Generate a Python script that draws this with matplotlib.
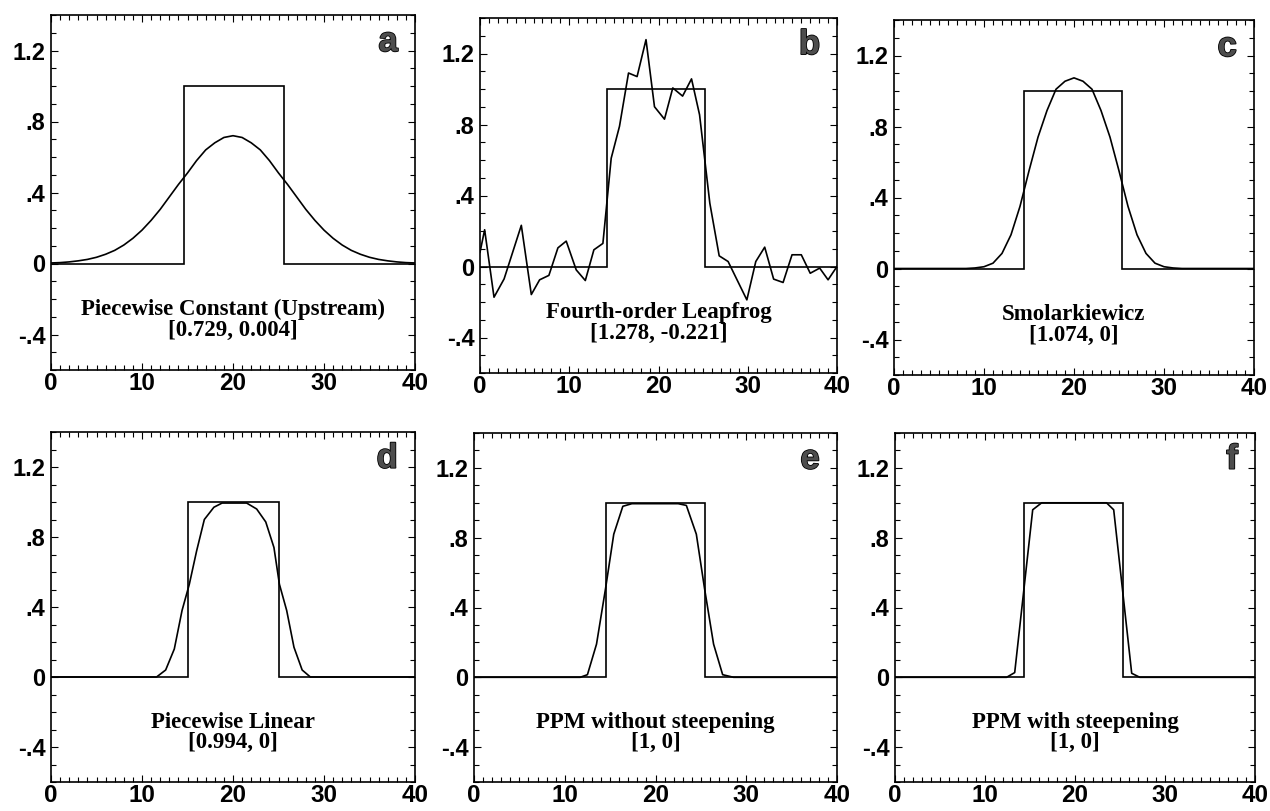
import matplotlib
matplotlib.use("Agg")
import matplotlib.pyplot as plt
from matplotlib.ticker import MultipleLocator
import matplotlib.patheffects as pe

# ---------------- data ----------------
x_grid = list(range(41))

# (a) Piecewise Constant (Upstream)
y_a = [0.003, 0.005, 0.009, 0.015, 0.023, 0.035, 0.052, 0.074, 0.104, 0.142,
       0.188, 0.243, 0.305, 0.375, 0.445, 0.51, 0.58, 0.64, 0.68, 0.71,
       0.72,
       0.71, 0.68, 0.64, 0.58, 0.51, 0.445, 0.375, 0.305, 0.243, 0.188,
       0.142, 0.104, 0.074, 0.052, 0.035, 0.023, 0.015, 0.009, 0.005, 0.003]

# (b) Fourth-order Leapfrog
x_b = [0.0, 0.52, 1.57, 2.7, 4.63, 5.75, 6.68, 7.72, 8.73, 9.66, 10.78, 11.8,
       12.76, 13.77, 14.7, 15.63, 16.64, 17.6, 18.6, 19.55, 20.67, 21.6, 22.7,
       23.7, 24.6, 25.75, 26.8, 27.8, 28.8, 29.9, 30.9, 31.9, 32.9, 33.96,
       34.96, 36.0, 37.0, 38.06, 39.0, 40.0]
y_b = [0.08, 0.207, -0.173, -0.07, 0.232, -0.158, -0.075, -0.05, 0.105, 0.143,
       -0.019, -0.079, 0.094, 0.13, 0.61, 0.79, 1.09, 1.07, 1.278, 0.90, 0.83,
       1.006, 0.96, 1.057, 0.855, 0.357, 0.06, 0.028, -0.075, -0.188, 0.028,
       0.109, -0.071, -0.09, 0.066, 0.066, -0.038, -0.009, -0.075, 0.0]

# (c) Smolarkiewicz
y_c = [0, 0, 0, 0, 0, 0, 0, 0, 0, 0.003,
       0.01, 0.03, 0.085, 0.19, 0.35, 0.55, 0.74, 0.89, 1.01, 1.055,
       1.074,
       1.055, 1.01, 0.89, 0.74, 0.55, 0.35, 0.19, 0.085, 0.03, 0.01,
       0.003, 0, 0, 0, 0, 0, 0, 0, 0, 0]

# (d) Piecewise Linear
x_d = [0, 11.6, 12.6, 13.55, 14.4, 15.2, 16.0, 16.85, 17.9, 18.8, 21.5, 22.6,
       23.6, 24.5, 25.1, 25.9, 26.7, 27.6, 28.5, 40]
y_d = [0, 0, 0.04, 0.16, 0.38, 0.53, 0.72, 0.90, 0.97, 0.994, 0.994, 0.96,
       0.886, 0.74, 0.53, 0.38, 0.17, 0.04, 0, 0]

# (e) PPM without steepening
x_e = [0, 11.7, 12.5, 13.5, 14.5, 15.4, 16.4, 17.4, 22.5, 23.4, 24.5, 25.4,
       26.4, 27.4, 28.6, 40]
y_e = [0, 0, 0.015, 0.19, 0.51, 0.82, 0.98, 0.995, 0.995, 0.985, 0.82, 0.51,
       0.19, 0.015, 0, 0]

# (f) PPM with steepening
x_f = [0, 12.4, 13.3, 15.3, 16.3, 23.5, 24.3, 26.3, 27.2, 40]
y_f = [0, 0, 0.027, 0.96, 1.0, 1.0, 0.96, 0.023, 0, 0]

# exact square pulse edges, per panel
box_left = [14.6, 14.2, 14.4, 15.1, 14.5, 14.3]
box_right = [25.6, 25.2, 25.3, 25.1, 25.4, 25.3]

titles = ["Piecewise Constant (Upstream)", "Fourth-order Leapfrog",
          "Smolarkiewicz", "Piecewise Linear", "PPM without steepening",
          "PPM with steepening"]
stats = ["[0.729, 0.004]", "[1.278, -0.221]", "[1.074, 0]", "[0.994, 0]",
         "[1, 0]", "[1, 0]"]
letters = ["a", "b", "c", "d", "e", "f"]

x_ticks = [0, 10, 20, 30, 40]
x_ticklabels = ["0", "10", "20", "30", "40"]
y_ticks = [-0.4, 0, 0.4, 0.8, 1.2]
y_ticklabels = ["-.4", "0", ".4", ".8", "1.2"]

curves = [(x_grid, y_a), (x_b, y_b), (x_grid, y_c),
          (x_d, y_d), (x_e, y_e), (x_f, y_f)]

# ---------------- layout ----------------
W, H = 1270, 811
# (left, right, top, bottom) in pixels
boxes_px = [(51, 415, 15, 370), (480, 837, 18, 373), (894, 1254, 20, 375),
            (51, 415, 432, 782), (474, 837, 433, 782), (895, 1255, 433, 782)]

fig = plt.figure(figsize=(W / 100, H / 100), dpi=100)
fig.patch.set_facecolor("white")

sans = "Liberation Sans"
serif = "Liberation Serif"

for i in range(6):
    l, r, t, b = boxes_px[i]
    ax = fig.add_axes([l / W, 1 - b / H, (r - l) / W, (b - t) / H])
    ax.set_xlim(0, 40)
    ax.set_ylim(-0.6, 1.4)

    # square pulse
    bl, br = box_left[i], box_right[i]
    ax.plot([0, bl, bl, br, br, 40], [0, 0, 1, 1, 0, 0],
            color="black", lw=1.2, solid_joinstyle="miter")
    # numerical solution
    cx, cy = curves[i]
    ax.plot(cx, cy, color="black", lw=1.2)

    # text
    ax.text(20, -0.26, titles[i], ha="center", va="center",
            fontfamily=serif, fontweight="bold", fontsize=16.5)
    ax.text(20, -0.375, stats[i], ha="center", va="center",
            fontfamily=serif, fontweight="bold", fontsize=16.5)
    ax.text(38.1, 1.25, letters[i], ha="right", va="center",
            fontfamily=sans, fontweight="bold", fontsize=25, color="0.3",
            path_effects=[pe.withStroke(linewidth=1.2, foreground="black")])

    # ticks
    ax.set_xticks(x_ticks)
    ax.set_xticklabels(x_ticklabels, fontfamily=sans, fontweight="bold",
                       fontsize=17.5)
    ax.set_yticks(y_ticks)
    ax.set_yticklabels(y_ticklabels, fontfamily=sans, fontweight="bold",
                       fontsize=17)
    ax.xaxis.set_minor_locator(MultipleLocator(1))
    ax.yaxis.set_minor_locator(MultipleLocator(0.1))
    ax.tick_params(axis="both", which="both", direction="in",
                   top=True, right=True, width=0.8)
    ax.tick_params(axis="both", which="major", length=5)
    ax.tick_params(axis="both", which="minor", length=3.5)
    ax.tick_params(axis="x", which="major", pad=1.5)
    ax.tick_params(axis="y", which="major", pad=4)
    for s in ax.spines.values():
        s.set_linewidth(1.2)

fig.savefig("out.png", dpi=100, facecolor="white")
